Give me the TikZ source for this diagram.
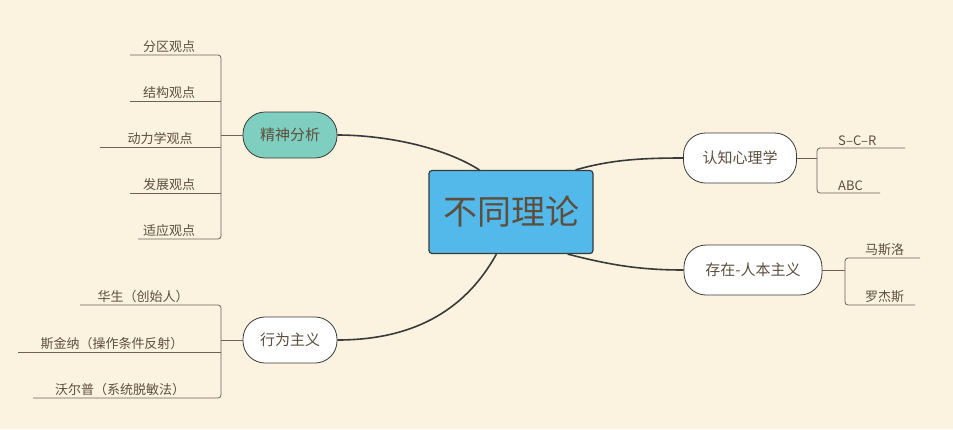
\documentclass[tikz,border=0pt]{standalone}
\usepackage{fontspec}
\setmainfont{Noto Sans CJK SC}
\definecolor{bg}{HTML}{FBF3DF}
\definecolor{txt}{HTML}{5E4E3E}
\definecolor{main}{HTML}{3A3A3A}
\definecolor{leafl}{HTML}{6E6255}
\definecolor{blue}{HTML}{52B9EA}
\definecolor{teal}{HTML}{7ECFBF}
\begin{document}
\begin{tikzpicture}[x=1pt,y=-1pt,
  topic/.style={draw=main,line width=0.8pt,rounded corners=22pt,minimum height=46pt,inner xsep=10pt,text=txt,font=\fontsize{15}{15}\selectfont},
  leaf/.style={text=txt,font=\fontsize{13}{13}\selectfont,anchor=south,inner sep=2pt},
  ll/.style={draw=leafl,line width=0.8pt},
  br/.style={draw=leafl,line width=0.8pt,rounded corners=3pt},
  conn/.style={draw=main,line width=1.6pt}]
\fill[bg] (0,0) rectangle (953,429);
\node[draw=main,line width=1.2pt,fill=blue,rounded corners=3pt,minimum width=164pt,minimum height=83pt,text=txt,font=\fontsize{34}{34}\selectfont] (c) at (511,212) {不同理论};
\node[topic,fill=teal,minimum width=94pt] (a) at (290,135) {精神分析};
\node[topic,fill=white,minimum width=94pt] (b) at (290,340) {行为主义};
\node[topic,fill=white,minimum width=113pt,minimum height=50pt] (d) at (740,158) {认知心理学};
\node[topic,fill=white,minimum width=138pt,minimum height=50pt] (e) at (753,270) {存在-人本主义};
% main connectors
\draw[conn] (c.north west)++(51,0) coordinate (c1) .. controls (440,145) and (380,135) .. (a.east);
\draw[conn] (c.south west)++(68,0) coordinate (c2) .. controls (460,320) and (400,340) .. (b.east);
\draw[conn] (c.north east)++(-18,0) coordinate (c3) .. controls (610,160) and (640,158) .. (d.west);
\draw[conn] (c.south east)++(-26,0) coordinate (c4) .. controls (610,265) and (640,270) .. (e.west);
% left top bracket
\coordinate (ja) at (221,135);
\draw[ll] (a.west) -- (ja);
\draw[br] (130,55) -- (221,55) -- (221,239) -- (138,239);
\foreach \t/\y/\x in {分区观点/55/169,结构观点/101/169,动力学观点/147/160,发展观点/193/169,适应观点/239/169}{
  \node[leaf] (l\y) at (\x,\y) {\t};
}
\draw[ll] (221,101) -- (130,101);
\draw[ll] (221,147) -- (100,147);
\draw[ll] (221,193) -- (130,193);
% left bottom bracket
\coordinate (jb) at (221,340);
\draw[ll] (b.west) -- (jb);
\draw[br] (80,305) -- (221,305) -- (221,398) -- (33,398);
\draw[ll] (221,352) -- (18,352);
\node[leaf] (m1) at (143,305) {华生（创始人）};
\node[leaf] (m2) at (112,352) {斯金纳（操作条件反射）};
\node[leaf] (m3) at (120,398) {沃尔普（系统脱敏法）};
% right top
\draw[ll] (d.east) -- (817,158);
\draw[br] (905,148) -- (817,148) -- (817,193) -- (880,193);
\node[leaf,anchor=south west] (r1) at (836,148) {S--C--R};
\node[leaf,anchor=south west] (r2) at (836,193) {ABC};
% right bottom
\draw[ll] (e.east) -- (845,270);
\draw[br] (920,258) -- (845,258) -- (845,305) -- (915,305);
\node[leaf,anchor=south west] (s1) at (863,258) {马斯洛};
\node[leaf,anchor=south west] (s2) at (863,305) {罗杰斯};
\end{tikzpicture}
\end{document}
